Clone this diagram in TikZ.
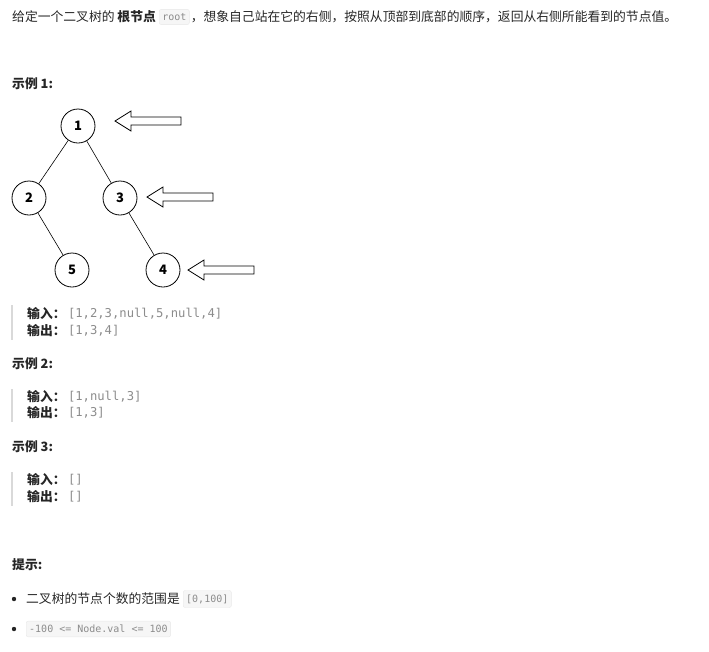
\documentclass[tikz,border=0pt]{standalone}
\usepackage{fontspec}
\setmainfont{Noto Sans CJK SC}
\newfontfamily\codefont{DejaVu Sans Mono}
\usetikzlibrary{positioning}
\definecolor{txtgray}{HTML}{262626}
\definecolor{valgray}{HTML}{8C8C8C}
\begin{document}
\begin{tikzpicture}[x=1pt, y=-1pt,
every node/.style={inner sep=0pt, text=txtgray},
txt/.style={anchor=west, font=\fontsize{12.8}{15}\selectfont},
head/.style={txt, font=\fontsize{12.8}{15}\selectfont\bfseries},
val/.style={anchor=west, text=valgray, font=\fontsize{12.2}{14}\codefont},
code/.style={anchor=west, fill=gray!7, draw=gray!18, rounded corners=2pt, inner xsep=3pt, inner ysep=4pt, font=\fontsize{10}{12}\codefont, text=valgray},
tnode/.style={circle, draw=black, thick, minimum size=34pt, font=\fontsize{13}{15}\selectfont\bfseries, text=black},
edge/.style={draw=black, semithick},
quote/.style={draw=gray!30, line width=1.2pt}
]
\useasboundingbox (0,0) rectangle (709,651);

\node[txt] (intro) at (12,17) {给定一个二叉树的 \textbf{根节点}};
\node[code, right=3pt of intro] (root) {root};
\node[txt, right=1pt of root] {，想象自己站在它的右侧，按照从顶部到底部的顺序，返回从右侧所能看到的节点值。};

\node[head] at (12,84) {示例 1:};

% tree
\node[tnode] (n1) at (78,126) {1};
\node[tnode] (n2) at (29,198) {2};
\node[tnode] (n3) at (120,198) {3};
\node[tnode] (n5) at (72,270) {5};
\node[tnode] (n4) at (163,270) {4};
\draw[edge] (n1) -- (n2);
\draw[edge] (n1) -- (n3);
\draw[edge] (n2) -- (n5);
\draw[edge] (n3) -- (n4);

% right-side view arrows
\foreach \x/\y/\nm in {115/121/a1, 147/197/a2, 188/270/a3} {
  \coordinate (\nm) at (\x,\y);
  \draw[black, thick] (\nm) -- ++(16,-10) -- ++(0,6) -- ++(50,0) -- ++(0,8) -- ++(-50,0) -- ++(0,6) -- cycle;
}

% example 1
\draw[quote] (12,305) -- (12,340);
\node[head] (in1) at (27,314) {输入：};
\node[val, right=2pt of in1] {[1,2,3,null,5,null,4]};
\node[head] (out1) at (27,331) {输出：};
\node[val, right=2pt of out1] {[1,3,4]};

\node[head] at (12,364) {示例 2:};
\draw[quote] (12,389) -- (12,422);
\node[head] (in2) at (27,397) {输入：};
\node[val, right=2pt of in2] {[1,null,3]};
\node[head] (out2) at (27,413) {输出：};
\node[val, right=2pt of out2] {[1,3]};

\node[head] at (12,447) {示例 3:};
\draw[quote] (12,472) -- (12,506);
\node[head] (in3) at (27,480) {输入：};
\node[val, right=2pt of in3] {[]};
\node[head] (out3) at (27,497) {输出：};
\node[val, right=2pt of out3] {[]};

\node[head] at (12,565) {提示:};
\fill[txtgray] (14,599) circle (2.2pt);
\node[txt] (tip1) at (26,599) {二叉树的节点个数的范围是};
\node[code, right=3pt of tip1] {[0,100]};
\fill[txtgray] (14,629) circle (2.2pt);
\node[code] at (26,629) {-100 <= Node.val <= 100};
\end{tikzpicture}
\end{document}
